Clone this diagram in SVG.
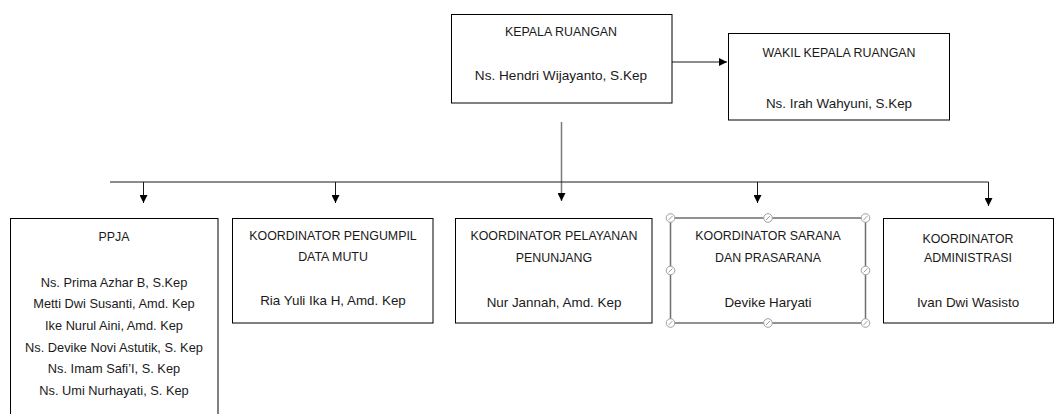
<svg xmlns="http://www.w3.org/2000/svg" width="1055" height="414" viewBox="0 0 1055 414">
<style>
.box{fill:#fff;stroke:#000;stroke-width:1}
.sel{fill:#fff;stroke:#6e6e6e;stroke-width:1.5}
.t{font-family:"Liberation Sans",Arial,sans-serif;font-size:12.4px;fill:#1a1a1a;text-anchor:middle}
.n{font-family:"Liberation Sans",Arial,sans-serif;font-size:13.4px;fill:#1a1a1a;text-anchor:middle}
.nk{font-size:13.6px}
.np{font-size:12.8px}
.c{fill:none;stroke:#1a1a1a;stroke-width:1}
.h{fill:#fff;stroke:#a0a0a0;stroke-width:1}
.hs{stroke:#a0a0a0;stroke-width:1}
</style>
<defs>
<marker id="ah" viewBox="0 0 10 10" refX="10" refY="5" markerWidth="8" markerHeight="8" markerUnits="userSpaceOnUse" orient="auto">
<path d="M0,0 L10,5 L0,10 Z" fill="#000"/>
</marker>
<g id="handle"><circle class="h" cx="0" cy="0" r="4.3"/><line class="hs" x1="-2" y1="2" x2="2" y2="-2"/></g>
</defs>
<g id="connectors">
<line class="c" x1="672" y1="62" x2="727" y2="62" marker-end="url(#ah)"/>
<line class="c" x1="561.5" y1="122" x2="561.5" y2="201" marker-end="url(#ah)" style="stroke:#7a7a7a;stroke-width:1.5"/>
<line class="c" x1="110" y1="182" x2="988.5" y2="182"/>
<line class="c" x1="143.5" y1="182" x2="143.5" y2="203" marker-end="url(#ah)"/>
<line class="c" x1="335.5" y1="182" x2="335.5" y2="203" marker-end="url(#ah)"/>
<line class="c" x1="757.5" y1="182" x2="757.5" y2="203" marker-end="url(#ah)"/>
<line class="c" x1="988.5" y1="182" x2="988.5" y2="206" marker-end="url(#ah)"/>
</g>
<g id="kepala">
<rect class="box" x="451.5" y="14.5" width="220.5" height="88.5"/>
<text class="t" x="561" y="36">KEPALA RUANGAN</text>
<text class="n nk" x="561" y="80">Ns. Hendri Wijayanto, S.Kep</text>
</g>
<g id="wakil">
<rect class="box" x="728.5" y="33.5" width="221" height="86.5"/>
<text class="t" x="839" y="57">WAKIL KEPALA RUANGAN</text>
<text class="n" x="839" y="107.5">Ns. Irah Wahyuni, S.Kep</text>
</g>
<g id="ppja">
<rect class="box" x="10.5" y="218.5" width="207.5" height="210"/>
<text class="t" x="114" y="241">PPJA</text>
<text class="n np" x="114" y="286.5">Ns. Prima Azhar B, S.Kep</text>
<text class="n np" x="114" y="308">Metti Dwi Susanti, Amd. Kep</text>
<text class="n np" x="114" y="329.5">Ike Nurul Aini, Amd. Kep</text>
<text class="n np" x="114" y="351.5">Ns. Devike Novi Astutik, S. Kep</text>
<text class="n np" x="114" y="373">Ns. Imam Safi’I, S. Kep</text>
<text class="n np" x="114" y="394.5">Ns. Umi Nurhayati, S. Kep</text>
</g>
<g id="pengumpil">
<rect class="box" x="232.5" y="218.5" width="200.5" height="104.5"/>
<text class="t" x="333" y="240">KOORDINATOR PENGUMPIL</text>
<text class="t" x="333" y="261">DATA MUTU</text>
<text class="n" x="333" y="305">Ria Yuli Ika H, Amd. Kep</text>
</g>
<g id="pelayanan">
<rect class="box" x="455.5" y="218.5" width="196.5" height="104.5"/>
<text class="t" x="554" y="240">KOORDINATOR PELAYANAN</text>
<text class="t" x="554" y="262">PENUNJANG</text>
<text class="n" x="554" y="307">Nur Jannah, Amd. Kep</text>
</g>
<g id="sarana">
<rect class="sel" x="670.5" y="218" width="195" height="105"/>
<text class="t" x="768" y="240">KOORDINATOR SARANA</text>
<text class="t" x="768" y="262">DAN PRASARANA</text>
<text class="n" x="768" y="307">Devike Haryati</text>
<use href="#handle" x="670.5" y="218"/>
<use href="#handle" x="768" y="218"/>
<use href="#handle" x="865.5" y="218"/>
<use href="#handle" x="670.5" y="270.5"/>
<use href="#handle" x="865.5" y="270.5"/>
<use href="#handle" x="670.5" y="323"/>
<use href="#handle" x="768" y="323"/>
<use href="#handle" x="865.5" y="323"/>
</g>
<g id="administrasi">
<rect class="box" x="883.5" y="218.5" width="170" height="104.5"/>
<text class="t" x="968" y="243">KOORDINATOR</text>
<text class="t" x="968" y="262">ADMINISTRASI</text>
<text class="n" x="968" y="307">Ivan Dwi Wasisto</text>
</g>
</svg>
